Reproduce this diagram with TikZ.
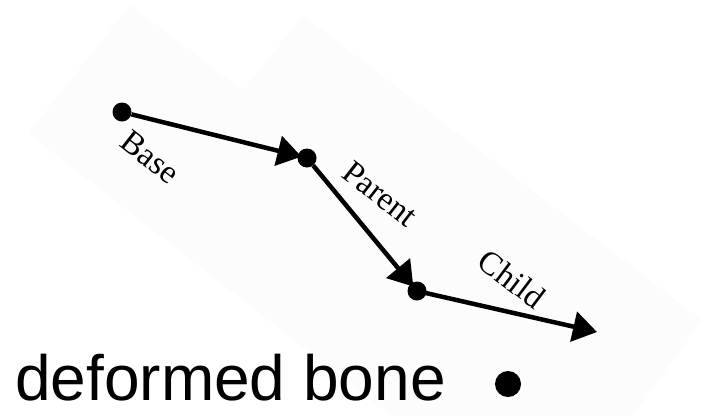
\documentclass[tikz,border=0pt]{standalone}
\usepackage{fontspec}
\setmainfont{Liberation Serif}
\newfontfamily\labelsans{Liberation Sans}
\usetikzlibrary{arrows.meta}
\definecolor{bgshade}{RGB}{252,252,252}
\tikzset{
  jointdot/.style={circle,fill=black,inner sep=0pt,minimum size=19pt},
  bonearrow/.style={line width=4.5pt,-{Triangle[length=24pt,width=30pt]}},
  bonelabel/.style={font=\fontsize{33}{33}\selectfont,inner sep=0pt,rotate=-38}
}
\begin{document}
\begin{tikzpicture}[x=1pt,y=-1pt]
\useasboundingbox (0,0) rectangle (717,416);
\fill[bgshade] (28,133) -- (130,5) -- (243,90) -- (303,15) -- (702,320) -- (633,416) -- (391,416) -- cycle;
\node[jointdot] (base) at (122,112) {};
\node[jointdot] (parent) at (307,158) {};
\node[jointdot] (child) at (417,291) {};
\coordinate (tip) at (597,332);
\draw[bonearrow,shorten >=-4pt] (base) -- (parent);
\draw[bonearrow,shorten >=-4pt] (parent) -- (child);
\draw[bonearrow] (child.center) -- (tip);
\node[bonelabel] (lbase) at (150,157) {Base};
\node[bonelabel] (lparent) at (380,194) {Parent};
\node[bonelabel,rotate=1] (lchild) at (512,279) {Child};
\node[anchor=base west,inner sep=0pt,font=\labelsans\fontsize{64}{64}\selectfont] (caption) at (15,400) {deformed bone};
\node[circle,fill=black,inner sep=0pt,minimum size=26pt] (bullet) at (508,384) {};
\end{tikzpicture}
\end{document}
